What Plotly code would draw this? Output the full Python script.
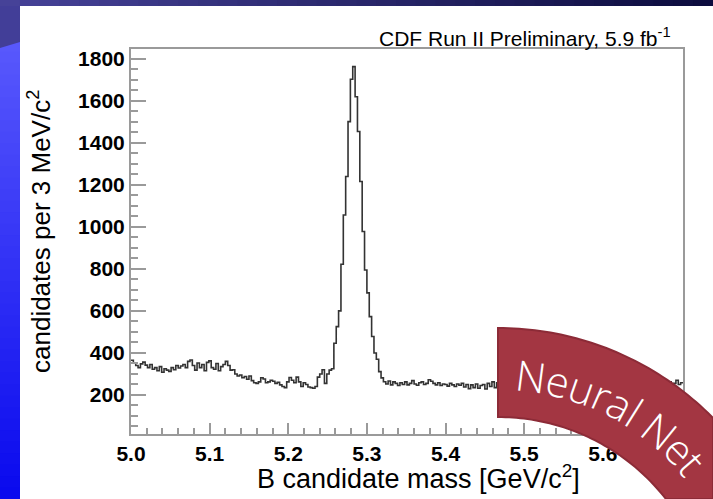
import math
import plotly.graph_objects as go

W, H = 713, 499

# ---------------- data ----------------
mass_start = 5.0      # GeV/c^2
bin_width = 0.003     # 3 MeV/c^2

counts_5000_5078 = [365, 352, 340, 330, 348, 356, 342, 330, 345, 322, 330, 315, 335,
                    308, 325, 318, 312, 330, 320, 340, 328, 338, 345, 330, 360, 366]
counts_5078_5153 = [340, 318, 352, 330, 345, 315, 355, 362, 330, 322, 350, 315, 335,
                    345, 360, 340, 318, 320, 300, 290, 295, 282, 288, 275, 290]
counts_5153_5258 = [268, 258, 255, 262, 282, 276, 258, 262, 270, 265, 255, 260, 248,
                    240, 235, 262, 283, 270, 258, 285, 262, 240, 258, 250, 238, 235,
                    232, 240, 285, 300, 320, 255, 300, 318, 325]
counts_peak = [446, 525, 600, 822, 1057, 1240, 1501, 1703, 1763, 1620, 1454, 1216,
               978, 795, 686, 573, 478, 400, 370, 311, 281, 263]
counts_5324_5498 = [252, 266, 248, 262, 255, 245, 258, 250, 262, 248, 255, 268, 252,
                    246, 258, 262, 250, 255, 272, 265, 255, 248, 258, 245, 252, 250,
                    242, 255, 248, 240, 252, 246, 255, 238, 250, 230, 248, 235, 252,
                    232, 245, 250, 228, 255, 240, 262, 235, 258, 245, 268, 240, 255,
                    250, 262, 248, 255, 245, 252]
counts_5498_5702 = [248, 240, 255, 250, 238, 246, 258, 244, 250, 236, 248, 255, 242,
                    250, 245, 238, 252, 246, 240, 255, 248, 242, 236, 250, 244, 252,
                    238, 246, 240, 255, 248, 236, 244, 250, 242, 238, 252, 245, 240,
                    248, 236, 250, 244, 238, 252, 246, 240, 248, 242, 236, 250, 244,
                    240, 252, 246, 238, 248, 242, 255, 246, 240, 250, 262, 248, 255,
                    270, 250, 258]

counts = (counts_5000_5078 + counts_5078_5153 + counts_5153_5258 + counts_peak
          + counts_5324_5498 + counts_5498_5702)

x_tick_vals = [5.0, 5.1, 5.2, 5.3, 5.4, 5.5, 5.6, 5.7]
x_tick_text = ["5.0", "5.1", "5.2", "5.3", "5.4", "5.5", "5.6", "5.7"]
y_tick_vals = [200, 400, 600, 800, 1000, 1200, 1400, 1600, 1800]
y_tick_text = ["200", "400", "600", "800", "1000", "1200", "1400", "1600", "1800"]

title_text = "CDF Run II Preliminary, 5.9 fb<sup>-1</sup>"
x_title = "B candidate mass [GeV/c<sup>2</sup>]"
y_title = "candidates per 3 MeV/c<sup>2</sup>"
banner_text = "Neural Net"

# ---------------- helpers ----------------
def fx(p):
    return min(max(p / W, 0.0), 1.0)

def fy(p):
    return min(max(1 - p / H, 0.0), 1.0)

def mix(c1, c2, t):
    return "rgb(%d,%d,%d)" % tuple(round(a + (b - a) * t) for a, b in zip(c1, c2))

def clip(poly, inside, inter):
    out = []
    for i in range(len(poly)):
        cur, prev = poly[i], poly[i - 1]
        if inside(cur):
            if not inside(prev):
                out.append(inter(prev, cur))
            out.append(cur)
        elif inside(prev):
            out.append(inter(prev, cur))
    return out

def clip_rect(poly):
    def ix(xl):
        return lambda p, q: (xl, p[1] + (q[1] - p[1]) * (xl - p[0]) / (q[0] - p[0]))
    def iy(yl):
        return lambda p, q: (p[0] + (q[0] - p[0]) * (yl - p[1]) / (q[1] - p[1]), yl)
    poly = clip(poly, lambda p: p[0] <= W, ix(W))
    poly = clip(poly, lambda p: p[1] <= H, iy(H))
    poly = clip(poly, lambda p: p[0] >= 0, ix(0))
    poly = clip(poly, lambda p: p[1] >= 0, iy(0))
    return poly

edges = [mass_start + i * bin_width for i in range(len(counts) + 1)]
step_y = counts + [counts[-1]]

fig = go.Figure()
fig.add_trace(go.Scatter(
    x=edges, y=step_y, mode="lines", line=dict(shape="hv", color="#333333", width=1.6),
    hoverinfo="skip", showlegend=False))

shapes = []
# white panel
shapes.append(dict(type="rect", xref="paper", yref="paper", layer="below",
                   x0=fx(20), x1=1, y0=0, y1=fy(6),
                   fillcolor="white", line=dict(width=0)))
# slide background: left strip vertical gradient
n = 40
for k in range(n):
    y0 = 40 + (H - 40) * k / n
    y1 = 40 + (H - 40) * (k + 1) / n
    shapes.append(dict(type="rect", xref="paper", yref="paper", layer="below",
                       x0=0, x1=fx(20), y0=fy(y1 + 1), y1=fy(y0),
                       fillcolor=mix((88, 88, 252), (10, 10, 238), k / (n - 1)),
                       line=dict(width=0)))
# purple top-left wedge
shapes.append(dict(type="path", xref="paper", yref="paper", layer="below",
                   path="M %f,%f L %f,%f L %f,%f L %f,%f Z" % (
                       fx(0), fy(0), fx(20), fy(0), fx(20), fy(42), fx(0), fy(48)),
                   fillcolor="rgb(66,62,152)", line=dict(width=0)))
# top band gradient
n = 36
for k in range(n):
    x0 = W * k / n
    x1 = W * (k + 1) / n
    shapes.append(dict(type="rect", xref="paper", yref="paper", layer="below",
                       x0=fx(x0), x1=fx(x1 + 1), y0=fy(6), y1=1,
                       fillcolor=mix((70, 66, 152), (12, 12, 62), k / (n - 1)),
                       line=dict(width=0)))

# curved banner (annular sector), clipped to the figure
cx, cy = 498.0, 630.0
r_out, r_in = 302.0, 213.0
pts = []
for d in range(0, 76):
    a = math.radians(d)
    pts.append((cx + r_out * math.sin(a), cy - r_out * math.cos(a)))
for d in range(75, -1, -1):
    a = math.radians(d)
    pts.append((cx + r_in * math.sin(a), cy - r_in * math.cos(a)))
pts = clip_rect(pts)
path = "M " + " L ".join("%f,%f" % (fx(px), fy(py)) for px, py in pts) + " Z"
shapes.append(dict(type="path", xref="paper", yref="paper", layer="above", path=path,
                   fillcolor="#A33642", line=dict(color="#8C2B37", width=2)))

annotations = []
annotations.append(dict(text=title_text, xref="paper", yref="paper", x=fx(673), y=fy(52),
                        xanchor="right", yanchor="bottom", showarrow=False,
                        font=dict(family="Liberation Sans", size=21, color="black")))
annotations.append(dict(text=x_title, xref="paper", yref="paper", x=fx(419), y=fy(477),
                        xanchor="center", yanchor="middle", showarrow=False,
                        font=dict(family="Liberation Sans", size=27, color="black")))
annotations.append(dict(text=y_title, xref="paper", yref="paper", x=fx(39), y=fy(232),
                        xanchor="center", yanchor="middle", showarrow=False, textangle=-90,
                        font=dict(family="Liberation Sans", size=26, color="black")))

# banner letters along the arc
widths = {"N": 0.74, "e": 0.56, "u": 0.60, "r": 0.40, "a": 0.55, "l": 0.25, " ": 0.22,
          "t": 0.35}
centers = []
acc = 0.0
for ch in banner_text:
    w = widths[ch]
    centers.append(acc + w / 2)
    acc += w
first, last = centers[0], centers[-1]
ang0, ang1 = 7.4, 49.5
r_text = 257.0
for ch, c in zip(banner_text, centers):
    if ch == " ":
        continue
    ang = ang0 + (c - first) / (last - first) * (ang1 - ang0)
    a = math.radians(ang)
    px = cx + r_text * math.sin(a)
    py = cy - r_text * math.cos(a)
    annotations.append(dict(text=ch, xref="paper", yref="paper", x=fx(px), y=fy(py),
                            xanchor="center", yanchor="middle", showarrow=False,
                            textangle=ang,
                            font=dict(family="Open Sans", size=42, color="white",
                                      weight=300)))

axis_col = "#9a9a9a"
fig.update_layout(
    width=W, height=H, margin=dict(l=0, r=0, t=0, b=0, autoexpand=False),
    paper_bgcolor="white", plot_bgcolor="white",
    shapes=shapes, annotations=annotations, showlegend=False,
    xaxis=dict(domain=[131 / W, 683 / W], range=[5.0, 5.702], automargin=False,
               tickvals=x_tick_vals, ticktext=x_tick_text,
               ticks="inside", ticklen=11, tickwidth=1.5, tickcolor=axis_col,
               minor=dict(ticks="inside", ticklen=6, dtick=0.02, tick0=5.0,
                          tickcolor=axis_col, tickwidth=1.5),
               showline=True, linecolor=axis_col, linewidth=2, mirror=True,
               showgrid=False, zeroline=False,
               tickfont=dict(family="Liberation Sans", size=21, color="black",
                             weight="bold")),
    yaxis=dict(domain=[1 - 434 / H, 1 - 49 / H], range=[14, 1847], automargin=False,
               tickvals=y_tick_vals, ticktext=y_tick_text,
               ticks="inside", ticklen=15, tickwidth=1.5, tickcolor=axis_col,
               minor=dict(ticks="inside", ticklen=7, dtick=50, tick0=0,
                          tickcolor=axis_col, tickwidth=1.5),
               showline=True, linecolor=axis_col, linewidth=2, mirror=True,
               showgrid=False, zeroline=False,
               tickfont=dict(family="Liberation Sans", size=21, color="black",
                             weight="bold")),
)

fig.write_html("out.html")
